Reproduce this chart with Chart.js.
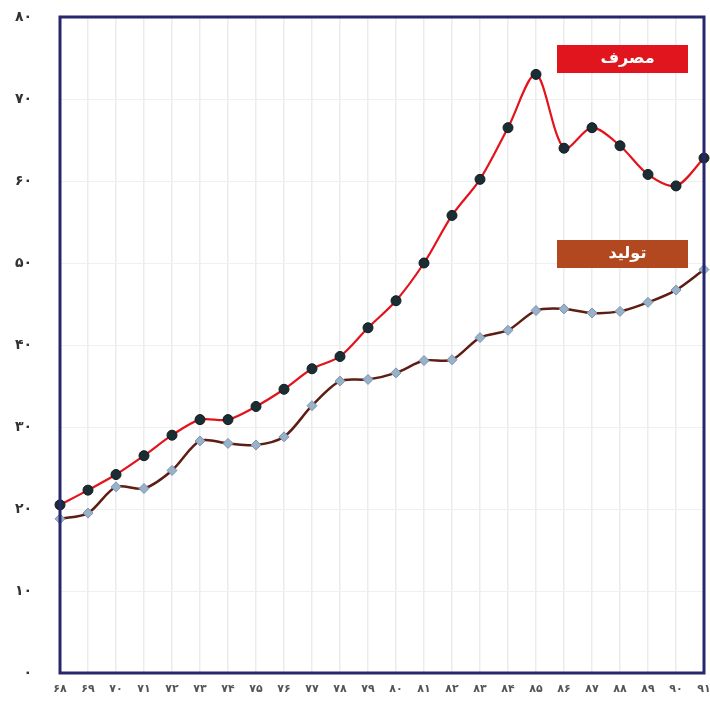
<!DOCTYPE html>
<html>
<head>
<meta charset="utf-8">
<script src="https://cdn.jsdelivr.net/npm/chart.js@4.4.1/dist/chart.umd.min.js"></script>
<style>
  html, body { margin: 0; padding: 0; background: #fff; }
  #wrap { width: 710px; height: 701px; }
</style>
</head>
<body>
<div id="wrap"><canvas id="myChart"></canvas></div>
<script>
'use strict';

// years 68..91 (solar calendar)
var years = [68, 69, 70, 71, 72, 73, 74, 75, 76, 77, 78, 79, 80, 81, 82, 83, 84, 85, 86, 87, 88, 89, 90, 91];
var consumption = [20.5, 22.3, 24.2, 26.5, 29.0, 30.9, 30.9, 32.5, 34.6, 37.1, 38.6, 42.1, 45.4, 50.0, 55.8, 60.2, 66.5, 73.0, 64.0, 66.5, 64.3, 60.8, 59.4, 62.8];
var production = [18.8, 19.5, 22.7, 22.5, 24.7, 28.3, 28.0, 27.8, 28.8, 32.6, 35.6, 35.8, 36.6, 38.1, 38.2, 40.9, 41.8, 44.2, 44.4, 43.9, 44.1, 45.2, 46.7, 49.2];
var yTicks = [0, 10, 20, 30, 40, 50, 60, 70, 80];
var seriesNames = ['مصرف', 'تولید'];

function toFa(n) {
    var d = '۰۱۲۳۴۵۶۷۸۹';
    return String(n).replace(/[0-9]/g, function (c) { return d[+c]; });
}

var frame = {
    id: 'frame',
    afterDatasetsDraw: function (chart) {
        var ctx = chart.ctx, a = chart.chartArea;
        ctx.save();
        ctx.strokeStyle = '#27276b';
        ctx.lineWidth = 3;
        ctx.strokeRect(a.left, a.top, a.right - a.left, a.bottom - a.top);

        // label boxes
        var boxes = [
            { text: seriesNames[0], color: '#e0151d', y: 45 },
            { text: seriesNames[1], color: '#b2481f', y: 240 }
        ];
        boxes.forEach(function (b) {
            ctx.fillStyle = b.color;
            ctx.fillRect(557, b.y, 131, 28);
            ctx.fillStyle = '#fff';
            ctx.font = 'bold 16px "DejaVu Sans", sans-serif';
            ctx.textAlign = 'center';
            ctx.textBaseline = 'middle';
            ctx.direction = 'rtl';
            ctx.fillText(b.text, 557 + 131 / 2 + 5, b.y + 14);
        });
        ctx.restore();
    }
};

function initChart() {
    var ctx = document.getElementById('myChart').getContext('2d');
    var data = {
        labels: years.map(toFa),
        datasets: [
            {
                label: seriesNames[0],
                data: consumption,
                borderColor: '#e3131b',
                borderWidth: 2.2,
                tension: 0.3,
                pointRadius: 5,
                pointBackgroundColor: '#1a2d33',
                pointBorderColor: '#101c22',
                pointBorderWidth: 1,
                clip: false
            },
            {
                label: seriesNames[1],
                data: production,
                borderColor: '#5e1d12',
                borderWidth: 2.5,
                tension: 0.3,
                pointRadius: 5,
                pointStyle: 'rectRot',
                pointBackgroundColor: '#98b2c8',
                pointBorderColor: '#7d93b0',
                pointBorderWidth: 1,
                clip: false
            }
        ]
    };
    var options = {
        responsive: true,
        maintainAspectRatio: false,
        animation: false,
        layout: { padding: { top: 17, right: 6, left: 0, bottom: 0 } },
        plugins: {
            legend: { display: false },
            tooltip: { enabled: false }
        },
        scales: {
            x: {
                offset: false,
                grid: { color: '#ececec', lineWidth: 1.5, drawTicks: false },
                border: { display: false },
                ticks: {
                    color: '#555',
                    font: { size: 11, weight: 'bold', family: 'DejaVu Sans' },
                    padding: 10,
                    maxRotation: 0,
                    autoSkip: false
                },
                afterFit: function (s) {
                    s.height = 28;
                    s.paddingLeft = 0; s.paddingRight = 0;
                }
            },
            y: {
                min: 0,
                max: 80,
                afterBuildTicks: function (s) {
                    s.ticks = yTicks.map(function (v) { return { value: v }; });
                },
                grid: { color: '#f0f0f0', drawTicks: false },
                border: { display: false },
                ticks: {
                    color: '#333',
                    font: { size: 14, weight: 'bold', family: 'DejaVu Sans' },
                    padding: 28,
                    callback: function (v) { return toFa(v); }
                },
                afterFit: function (s) {
                    s.width = 60;
                    s.paddingTop = 0; s.paddingBottom = 0;
                }
            }
        }
    };
    new Chart(ctx, { type: 'line', data: data, options: options, plugins: [frame] });
}

initChart();
</script>
</body>
</html>
